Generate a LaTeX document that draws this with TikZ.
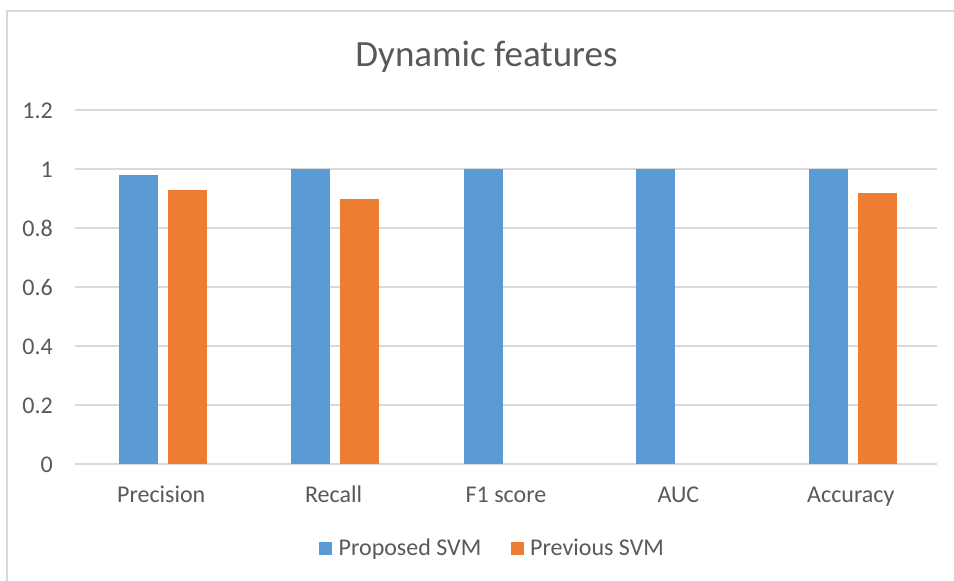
\documentclass[tikz,border=0pt]{standalone}
\usepackage{fontspec}
\setmainfont{Carlito}
\definecolor{txtgray}{HTML}{595959}
\definecolor{gridgray}{HTML}{D9D9D9}
\definecolor{barblue}{HTML}{5B9BD5}
\definecolor{barorange}{HTML}{ED7D31}
\tikzset{
  gridline/.style={draw=gridgray, line width=1.5pt},
  framebox/.style={draw=gridgray, line width=1.8pt},
  bluebar/.style={fill=barblue, draw=none},
  orangebar/.style={fill=barorange, draw=none},
  ticklabel/.style={text=txtgray, font=\fontsize{24}{28}\selectfont, anchor=base east, inner sep=0pt},
  catlabel/.style={text=txtgray, font=\fontsize{24}{28}\selectfont, anchor=base, inner sep=0pt},
  legendtext/.style={text=txtgray, font=\fontsize{24}{28}\selectfont, anchor=base west, inner sep=0pt},
  titletext/.style={text=txtgray, font=\fontsize{37}{42}\selectfont, anchor=base, inner sep=0pt}
}
\begin{document}
\begin{tikzpicture}[x=1pt,y=-1pt]
\useasboundingbox (0,0) rectangle (954,581);
\fill[white] (0,0) rectangle (954,581);
% frame (top and left edges visible)
\draw[framebox] (7,581) -- (7,11) -- (954,11);
% title
\node[titletext] (title) at (486.5,66.5) {Dynamic features};
% gridlines and tick labels
\foreach \v/\lab [count=\i] in {0/0,0.2/0.2,0.4/0.4,0.6/0.6,0.8/0.8,1/1,1.2/1.2}{
  \pgfmathsetmacro{\yy}{464-295*\v}
  \draw[gridline] (75,\yy) -- (937,\yy);
  \node[ticklabel] (tick\i) at (53,\yy+8.5) {\lab};
}
% bars
\foreach \name/\b/\o [count=\i from 0] in {Precision/0.98/0.93,Recall/1/0.9,F1 score/1/0,AUC/1/0,Accuracy/1/0.92}{
  \pgfmathsetmacro{\cx}{161.2+172.4*\i}
  \pgfmathsetmacro{\bt}{464-295*\b}
  \pgfmathsetmacro{\ot}{464-295*\o}
  \fill[bluebar] (\cx-42.2,464) rectangle (\cx-3.2,\bt);
  \ifdim \o pt>0pt
    \fill[orangebar] (\cx+6.8,464) rectangle (\cx+45.8,\ot);
  \fi
  \node[catlabel] (cat\i) at (\cx,502) {\name};
}
% legend
\fill[bluebar] (319,542) rectangle (332,555);
\node[legendtext] (leg1) at (338.5,555) {Proposed SVM};
\fill[orangebar] (511,542) rectangle (524,555);
\node[legendtext] (leg2) at (530,555) {Previous SVM};
\end{tikzpicture}
\end{document}
